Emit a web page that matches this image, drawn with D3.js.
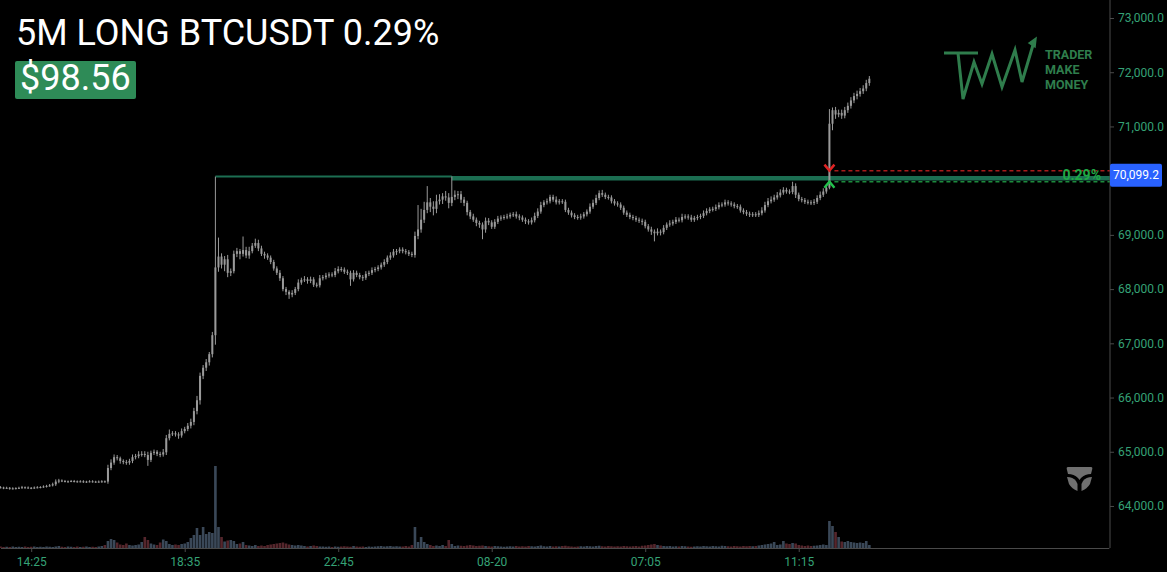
<!DOCTYPE html>
<html><head><meta charset="utf-8">
<script src="https://cdn.jsdelivr.net/npm/d3@7"></script>
<style>html,body{margin:0;padding:0;background:#000;overflow:hidden}svg{display:block}</style>
</head><body><svg id="c" width="1167" height="572"></svg>
<script>
// ---- data (5-minute candles) ----
const firstOpen = 64345;
const closes = [
64340,64330,64335,64320,64325,64330,64335,64345,64340,64335,
64330,64340,64345,64350,64360,64370,64380,64400,64450,64470,
64460,64450,64455,64460,64455,64450,64455,64445,64450,64455,
64450,64445,64450,64455,64450,64700,64800,64900,64880,64830,
64810,64800,64830,64900,64920,64950,64960,64940,64850,64980,
65000,64960,64950,64990,65250,65330,65340,65320,65300,65380,
65420,65480,65550,65750,65950,66400,66550,66650,66800,67150,
68400,68600,68450,68550,68300,68330,68650,68700,68650,68720,
68620,68700,68800,68850,68750,68650,68620,68580,68500,68380,
68300,68200,68000,67950,67900,67930,68000,68120,68170,68180,
68150,68180,68080,68070,68200,68220,68250,68270,68260,68330,
68370,68360,68320,68300,68180,68300,68260,68220,68210,68280,
68300,68350,68370,68400,68450,68500,68580,68620,68690,68700,
68730,68700,68680,68650,68630,68980,69100,69280,69460,69600,
69520,69480,69620,69650,69710,69690,69590,69700,69740,69750,
69650,69590,69420,69340,69280,69220,69190,69100,69260,69230,
69150,69240,69300,69320,69330,69340,69370,69380,69340,69320,
69280,69250,69230,69270,69350,69430,69550,69600,69620,69700,
69650,69600,69620,69610,69460,69410,69360,69330,69320,69340,
69380,69430,69520,69590,69680,69770,69740,69700,69690,69620,
69580,69560,69500,69410,69370,69330,69310,69280,69260,69240,
69160,69100,69060,69030,69060,69050,69130,69190,69210,69240,
69280,69270,69330,69340,69320,69280,69310,69330,69350,69400,
69440,69470,69480,69510,69550,69560,69600,69580,69560,69530,
69520,69450,69420,69390,69370,69380,69370,69400,69450,69550,
69620,69650,69690,69730,69780,69830,69800,69790,69900,69740,
69660,69640,69610,69600,69590,69610,69680,69740,69800,69870,
71050,71300,71220,71250,71200,71300,71380,71480,71560,71600,
71650,71700,71800,71880];
const upperWicks = [
20,15,20,15,20,15,20,25,15,20, 15,20,20,15,20,20,25,30,40,30,
20,20,15,20,20,15,20,20,15,20, 20,15,20,20,15,60,60,50,40,30,
30,40,40,50,40,60,50,50,60,40, 40,30,40,60,60,80,40,40,40,50,
40,50,60,60,80,60,50,60,40,60, 1675,350,60,60,80,50,60,60,40,250,
60,80,50,80,60,50,40,40,40,40, 40,50,40,40,30,50,40,60,40,60,
40,50,40,40,60,40,50,40,40,60, 50,40,40,40,40,50,40,40,40,50,
40,50,40,40,40,50,40,60,50,40, 40,40,40,40,40,80,450,200,150,300,
80,100,120,100,60,100,80,380,80,60, 60,50,40,40,50,40,40,40,60,50,
40,50,50,40,40,50,40,40,50,40, 40,40,40,50,60,60,60,40,50,40,
40,60,40,40,40,40,40,40,40,50, 40,40,60,60,60,50,60,40,40,40,
40,40,40,40,40,40,40,40,40,40, 40,40,50,40,60,40,50,40,60,40,
50,40,60,40,40,50,40,40,40,50, 50,40,40,50,50,40,50,40,40,40,
40,40,40,40,40,40,40,50,60,60, 60,60,50,60,60,50,40,40,80,50,
40,40,40,40,40,50,50,60,60,60, 270,50,60,60,60,60,60,60,60,60,
60,60,60,50];
const lowerWicks = [
15,20,15,20,15,20,15,15,20,15, 20,15,15,20,15,20,15,20,30,30,
20,15,20,15,20,20,15,20,20,15, 20,20,15,20,20,40,40,40,40,50,
40,40,40,40,40,40,40,40,110,40, 40,40,50,40,50,40,40,40,60,40,
40,40,50,60,60,80,60,60,60,60, 175,80,70,120,80,60,40,60,100,50,
50,60,40,40,50,40,60,40,40,40, 40,50,40,60,80,50,40,40,40,40,
50,40,40,40,40,40,40,40,40,40, 40,40,40,40,120,40,40,40,60,40,
40,40,40,40,40,40,40,40,40,60, 40,40,40,40,40,50,60,60,60,60,
100,120,80,60,80,60,100,60,60,80, 60,60,60,50,40,60,60,180,60,50,
40,40,40,40,40,40,40,40,40,50, 40,50,40,40,40,40,40,40,40,40,
40,40,40,40,40,40,40,40,40,40, 40,40,40,40,40,40,40,40,40,40,
40,40,40,40,40,40,40,40,40,60, 40,40,60,150,40,60,40,40,40,40,
40,40,40,40,40,40,40,40,40,40, 40,40,40,40,40,40,40,40,40,40,
40,40,40,40,40,40,40,40,40,40, 40,40,40,40,40,40,40,40,40,60,
40,40,40,40,40,40,40,40,40,40, 30,120,80,50,60,50,50,50,50,60,
50,50,50,50];
const volumes = [
30,20,25,20,30,20,25,20,30,20, 25,30,20,25,20,30,25,20,30,40,
25,20,30,25,20,30,20,25,30,20, 25,20,30,40,60,140,180,160,110,70,
60,90,60,50,60,70,120,220,160,90, 70,60,110,170,140,80,60,70,60,80,
90,120,200,260,400,260,420,280,320,300, 1640,420,220,130,150,160,140,80,90,120,
60,50,40,60,40,50,40,60,70,80, 90,100,110,90,70,60,50,60,50,40,
30,40,50,40,30,30,25,30,20,30, 25,30,35,30,25,40,30,25,30,20,
30,25,30,35,40,30,35,40,30,35, 30,30,40,30,60,420,120,220,120,80,
60,40,50,40,60,40,160,80,40,50, 45,40,50,60,50,40,45,50,40,35,
30,40,35,30,25,30,35,30,40,30, 35,30,40,35,30,40,50,35,30,40,
30,35,30,40,45,35,30,25,30,35, 30,40,35,30,40,45,35,30,40,35,
30,35,30,40,35,30,35,40,30,45, 50,60,70,80,60,50,40,35,40,30,
35,30,40,35,30,25,30,35,30,40, 35,30,40,35,30,45,40,35,30,40,
35,30,40,35,40,35,40,50,60,70, 80,90,120,60,70,140,90,80,100,90,
60,50,40,50,40,45,50,60,70,60, 540,440,320,220,130,120,140,120,110,100,
110,100,140,60];
const priceTicks = [64000,65000,66000,67000,68000,69000,70000,71000,72000,73000];
const timeTickIdx = [10,60,110,160,210,260];
const timeTickLabels = ["14:25","18:35","22:45","08-20","07:05","11:15"];
const slotCount = 361;            // visible candle slots incl. right margin
const rangeHighPrice = 70075;     // level drawn from the spike high
const rangeStartIdx = 70, bandStartIdx = 147;
const bandPrice = 70045;
const lastPrice = 70099.2;
const entryIdx = 270;
const redLevel = 70185, greenLevel = 69980;
const pctLabel = "0.29%";
const titleText = "5M LONG BTCUSDT 0.29%";
const pnlText = "$98.56";
const logoWords = ["TRADER", "MAKE", "MONEY"];

// ---- chart ----
const svg = d3.select("#c");
const W = 1167, H = 572, plotR = 1110, plotB = 548;
svg.append("rect").attr("width", W).attr("height", H).attr("fill", "#000");

const x = d3.scaleLinear().domain([0, slotCount]).range([0.5, 1108.8]);
const y = d3.scaleLinear().domain([63225, 73332]).range([plotB, 0]);
const vy = d3.scaleLinear().domain([0, 1640]).range([plotB, 466]);

const candles = closes.map((c, i) => {
  const o = i ? closes[i - 1] : firstOpen;
  return { i, o, c, h: Math.max(o, c) + upperWicks[i], l: Math.min(o, c) - lowerWicks[i], v: volumes[i] };
});

svg.append("clipPath").attr("id", "pc").append("rect").attr("width", plotR).attr("height", plotB);
const plot = svg.append("g").attr("clip-path", "url(#pc)");

// volume
plot.append("g").selectAll("rect").data(candles).join("rect")
  .attr("x", d => x(d.i) - 1.3).attr("width", 2.6)
  .attr("y", d => vy(d.v)).attr("height", d => plotB - vy(d.v))
  .attr("fill", d => d.c >= d.o ? "#3a4858" : "#55262c");

// position lines
plot.append("line").attr("x1", x(rangeStartIdx)).attr("x2", x(bandStartIdx))
  .attr("y1", y(rangeHighPrice)).attr("y2", y(rangeHighPrice))
  .attr("stroke", "#1c6e52").attr("stroke-width", 2);
plot.append("line").attr("x1", x(bandStartIdx)).attr("x2", plotR)
  .attr("y1", y(bandPrice)).attr("y2", y(bandPrice))
  .attr("stroke", "#1c6e52").attr("stroke-width", 4.5);
plot.append("line").attr("x1", x(entryIdx) + 5).attr("x2", plotR)
  .attr("y1", y(redLevel)).attr("y2", y(redLevel))
  .attr("stroke", "#a81c1c").attr("stroke-width", 1.5).attr("stroke-dasharray", "4,3");
plot.append("line").attr("x1", x(entryIdx) + 5).attr("x2", plotR)
  .attr("y1", y(greenLevel)).attr("y2", y(greenLevel))
  .attr("stroke", "#1c8a3c").attr("stroke-width", 1.5).attr("stroke-dasharray", "4,3");

// candles
const cg = plot.append("g");
cg.selectAll("line").data(candles).join("line")
  .attr("x1", d => x(d.i)).attr("x2", d => x(d.i))
  .attr("y1", d => y(d.h)).attr("y2", d => y(d.l))
  .attr("stroke", "#9a9a9a").attr("stroke-width", 1);
cg.selectAll("rect").data(candles).join("rect")
  .attr("x", d => x(d.i) - 1).attr("width", 2)
  .attr("y", d => y(Math.max(d.o, d.c)))
  .attr("height", d => Math.max(1, Math.abs(y(d.o) - y(d.c))))
  .attr("fill", "#9a9a9a");

// entry / exit chevrons
const cx = x(entryIdx);
svg.append("path").attr("d", `M${cx-5},${y(redLevel)-6} L${cx},${y(redLevel)} L${cx+5},${y(redLevel)-6}`)
  .attr("fill", "none").attr("stroke", "#e02424").attr("stroke-width", 2.5);
svg.append("path").attr("d", `M${cx-5},${y(greenLevel)+6} L${cx},${y(greenLevel)} L${cx+5},${y(greenLevel)+6}`)
  .attr("fill", "none").attr("stroke", "#22c04c").attr("stroke-width", 2.5);

svg.append("text").attr("x", 1101).attr("y", y(lastPrice) - 0.5).attr("dy", "0.35em")
  .attr("text-anchor", "end").attr("fill", "#1fa845")
  .style("font", "bold 14px Roboto, sans-serif").text(pctLabel);

// axes
const ya = svg.append("g").attr("transform", `translate(${plotR},0)`)
  .call(d3.axisRight(y).tickValues(priceTicks).tickFormat(d3.format(",.1f")).tickSize(4).tickPadding(4).tickSizeOuter(0));
const xa = svg.append("g").attr("transform", `translate(0,${plotB})`)
  .call(d3.axisBottom(x).tickValues(timeTickIdx).tickFormat((d, i) => timeTickLabels[i]).tickSize(4).tickPadding(5).tickSizeOuter(0));
[ya, xa].forEach(a => {
  a.select(".domain").attr("stroke", "#4a4a4a");
  a.selectAll(".tick line").attr("stroke", "#4a4a4a");
  a.selectAll("text").attr("fill", "#35a276").style("font-family", "Roboto, sans-serif").style("font-size", "12px");
});
ya.select(".domain").attr("d", `M0,0V${plotB}`);
// the last-price label covers the tick label right under it
ya.selectAll(".tick").filter(d => Math.abs(y(d) - y(lastPrice)) < 14).select("text").remove();

// last price label
svg.append("rect").attr("x", plotR).attr("y", y(lastPrice) - 11.5).attr("width", 52).attr("height", 23)
  .attr("rx", 2).attr("fill", "#2962ff");
svg.append("text").attr("x", plotR + 26).attr("y", y(lastPrice)).attr("dy", "0.35em")
  .attr("text-anchor", "middle").attr("fill", "#fff")
  .style("font", "12px Roboto, sans-serif").text(d3.format(",.1f")(lastPrice));

// title
svg.append("text").attr("x", 16).attr("y", 45).attr("fill", "#fff")
  .style("font", "36px Roboto, sans-serif").text(titleText);
svg.append("rect").attr("x", 15).attr("y", 61).attr("width", 121).attr("height", 38).attr("rx", 2).attr("fill", "#2e8b57");
svg.append("text").attr("x", 20).attr("y", 90).attr("fill", "#fff")
  .style("font", "36px Roboto, sans-serif").text(pnlText);

// logo
const lg = svg.append("g").attr("stroke", "#2f7d4c").attr("fill", "none").attr("stroke-width", 3).attr("stroke-linejoin", "miter");
lg.append("line").attr("x1", 944).attr("x2", 978).attr("y1", 53).attr("y2", 53);
lg.append("path").attr("d", d3.line()([[958,53],[963,99],[974,62],[982,84],[992,54],[1002,87],[1015,50],[1022,82],[1033,45]]));
svg.append("path").attr("d", "M1029,43 L1036,38 L1035,47 Z").attr("fill", "#2f7d4c").attr("stroke", "#2f7d4c").attr("stroke-width", 1.5);
logoWords.forEach((t, k) => {
  svg.append("text").attr("x", 1045).attr("y", 59 + k * 15).attr("fill", "#2f7d4c")
    .style("font", "bold 12.5px Roboto, sans-serif").text(t);
});

// watermark icon
const wm = svg.append("g").attr("fill", "#707070");
wm.append("path").attr("d", "M1068,467 L1091,467 Q1093,467 1092,470 L1091,474 Q1085,474 1081,478 L1079.5,480 L1078,478 Q1074,474 1068,474 L1067,470 Q1066,467 1068,467 Z");
wm.append("path").attr("d", "M1067,477 Q1073,477 1076,481 L1077.5,484 L1077.5,491 Q1072,489 1069,484 Z");
wm.append("path").attr("d", "M1092,477 Q1086,477 1083,481 L1081.5,484 L1081.5,491 Q1087,489 1090,484 Z");
</script></body></html>
